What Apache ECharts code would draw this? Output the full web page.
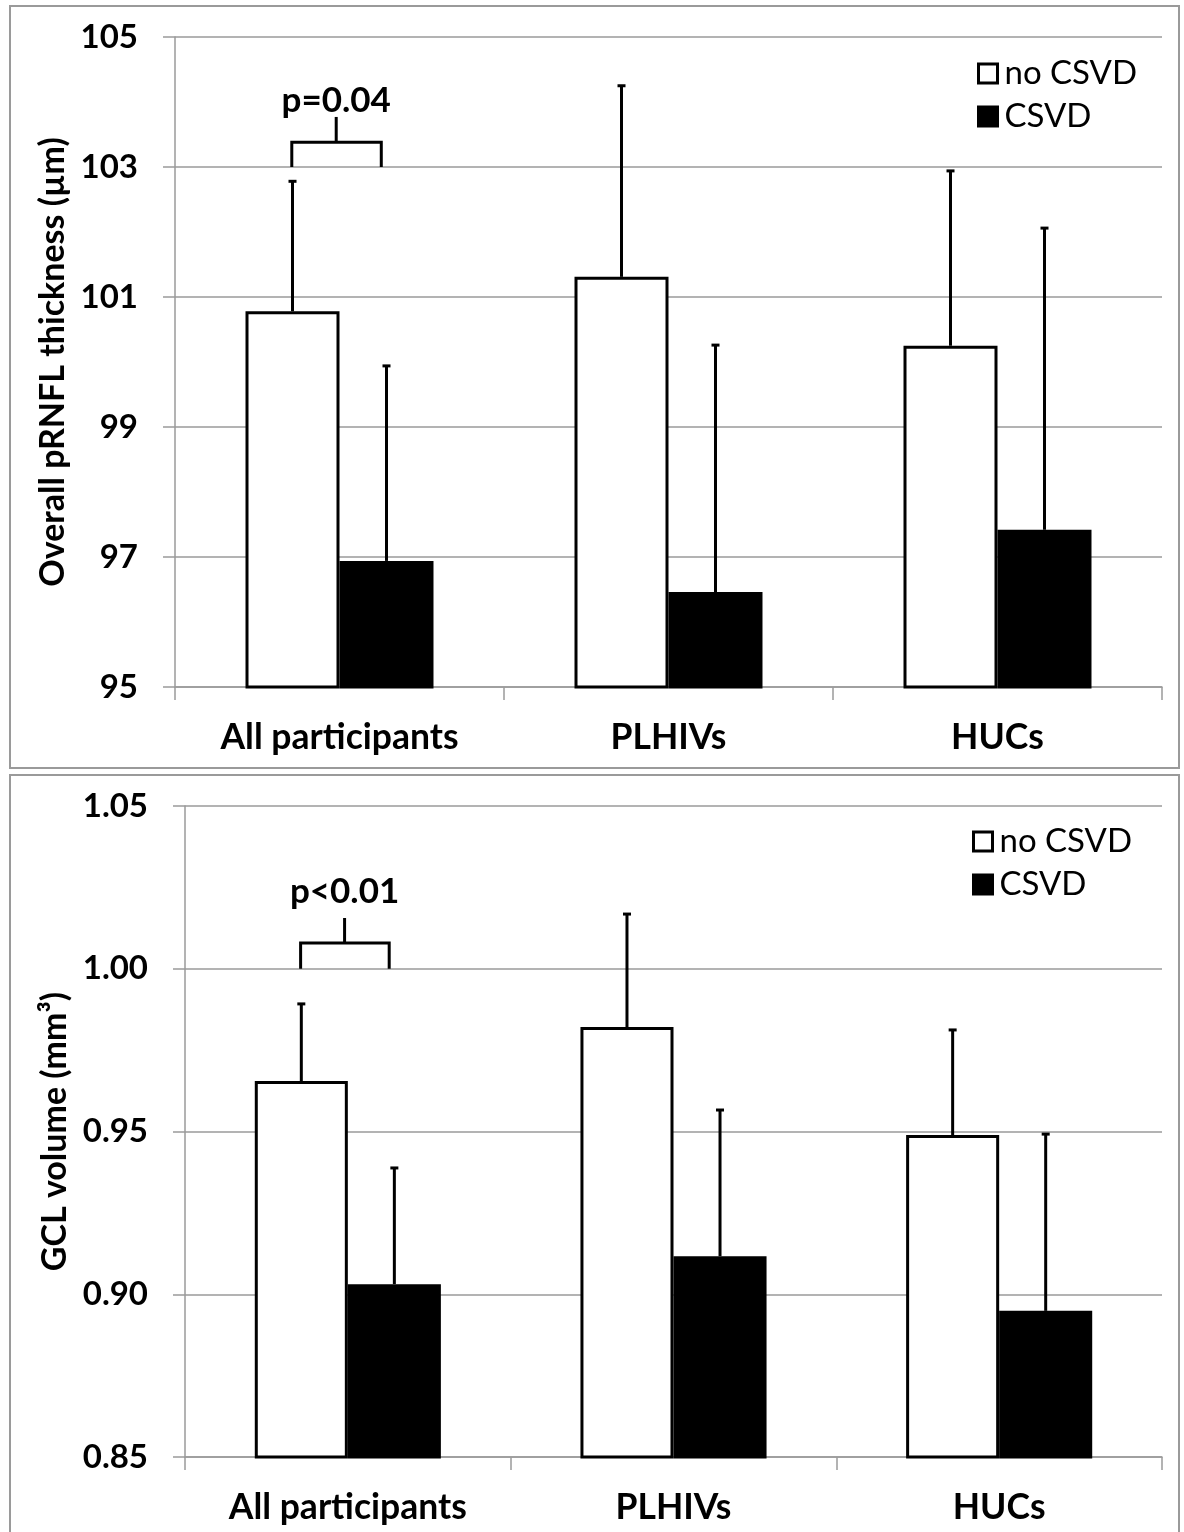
<!DOCTYPE html>
<html>
<head>
<meta charset="utf-8">
<script src="https://cdn.jsdelivr.net/npm/echarts@6/dist/echarts.min.js"></script>
<style>
html,body{margin:0;padding:0;background:#fff;}
#chart{width:1184px;height:1532px;}
</style>
</head>
<body>
<div id="chart"></div>
<script>
// ---- data ----
const categories = ['All participants', 'PLHIVs', 'HUCs'];
const seriesNames = ['no CSVD', 'CSVD'];

// Top panel: overall pRNFL thickness (µm), mean and upward error (SD)
const rnflNoCsvd = [100.78, 101.31, 100.25];
const rnflNoCsvdErr = [2.00, 2.94, 2.69];
const rnflCsvd = [96.94, 96.46, 97.42];
const rnflCsvdErr = [3.00, 3.80, 4.64];
const rnflTicks = [95, 97, 99, 101, 103, 105];
const rnflBracket = {cat: 0, base: 103.0, bar: 103.38, tip: 103.77, textAt: 104.02, text: 'p=0.04'};

// Bottom panel: GCL volume (mm³)
const gclNoCsvd = [0.9655, 0.9821, 0.9489];
const gclNoCsvdErr = [0.0237, 0.0347, 0.0323];
const gclCsvd = [0.9031, 0.9117, 0.8949];
const gclCsvdErr = [0.0357, 0.0449, 0.0543];
const gclTicks = [0.85, 0.90, 0.95, 1.00, 1.05];
const gclBracket = {cat: 0, base: 1.00, bar: 1.0079, tip: 1.0156, textAt: 1.0237, text: 'p<0.01'};

// ---- styling ----
const FONT = 'Lato, "Open Sans", sans-serif';
const GRAY = '#9a9a9a';
const BAR_FRAC = 0.2857;

function errData(vals, errs) {
  return categories.map((c, i) => [i, vals[i], vals[i] + errs[i]]);
}
function errRender(side) {
  return function (params, api) {
    const cat = api.value(0);
    const p = api.coord([cat, api.value(1)]);
    const q = api.coord([cat, api.value(2)]);
    const bw = api.size([1, 0])[0];
    const x = p[0] + side * bw * BAR_FRAC / 2;
    return {
      type: 'group',
      children: [
        {type: 'line', shape: {x1: x, y1: p[1], x2: x, y2: q[1]}, style: {stroke: '#000', lineWidth: 3}},
        {type: 'line', shape: {x1: x - 4, y1: q[1], x2: x + 4, y2: q[1]}, style: {stroke: '#000', lineWidth: 3}}
      ]
    };
  };
}
function bracketRender(b) {
  return function (params, api) {
    const cat = api.value(0);
    const bw = api.size([1, 0])[0];
    const c = api.coord([cat, api.value(2)]);
    const base = api.coord([cat, api.value(1)])[1];
    const tip = api.coord([cat, api.value(3)])[1];
    const ty = api.coord([cat, api.value(4)])[1];
    const x1 = c[0] - bw * 0.145;
    const x2 = c[0] + bw * 0.127;
    const xm = c[0] - bw * 0.01;
    return {
      type: 'group',
      children: [
        {type: 'polyline', shape: {points: [[x1, base], [x1, c[1]], [x2, c[1]], [x2, base]]},
         style: {stroke: '#000', lineWidth: 3, fill: null}},
        {type: 'line', shape: {x1: xm, y1: c[1], x2: xm, y2: tip}, style: {stroke: '#000', lineWidth: 3}},
        {type: 'text', x: xm, y: ty,
         style: {text: b.text, fill: '#000', font: 'bold 35px ' + FONT,
                 align: 'center', verticalAlign: 'middle', textAlign: 'center', textVerticalAlign: 'middle'}}
      ]
    };
  };
}

function yAxis(gridIndex, ticks, fmt, name, gap) {
  return {
    type: 'value', gridIndex: gridIndex,
    min: ticks[0], max: ticks[ticks.length - 1],
    interval: +(ticks[1] - ticks[0]).toFixed(4),
    name: name, nameLocation: 'middle', nameGap: gap, nameRotate: 90,
    nameTextStyle: {fontFamily: FONT, fontWeight: 'bold', fontSize: 34, color: '#000'},
    axisLine: {show: true, lineStyle: {color: GRAY, width: 1.5}},
    axisTick: {show: true, length: 12, lineStyle: {color: GRAY, width: 1.5}},
    axisLabel: {margin: 37, fontFamily: FONT, fontWeight: 'bold', fontSize: 33, color: '#000', formatter: fmt},
    splitLine: {show: true, lineStyle: {color: GRAY, width: 1.5}}
  };
}
function xAxis(gridIndex) {
  return {
    type: 'category', gridIndex: gridIndex, data: categories,
    axisLine: {show: true, lineStyle: {color: GRAY, width: 1.5}},
    axisTick: {show: true, length: 13, lineStyle: {color: GRAY, width: 1.5}},
    axisLabel: {margin: 33, fontFamily: FONT, fontWeight: 'bold', fontSize: 35.5, color: '#000'}
  };
}
function legend(left, top) {
  return {
    left: left, top: top, orient: 'vertical', itemGap: 10,
    itemWidth: 19, itemHeight: 19, icon: 'rect',
    itemStyle: {borderColor: '#000', borderWidth: 3},
    textStyle: {fontFamily: FONT, fontSize: 33, color: '#000', padding: [0, 0, 0, 2]},
    data: seriesNames
  };
}
function bars(gi, noVals, yesVals) {
  return [
    {name: seriesNames[0], type: 'bar', xAxisIndex: gi, yAxisIndex: gi, data: noVals,
     barWidth: (BAR_FRAC * 100) + '%', barGap: '0%',
     itemStyle: {color: '#fff', borderColor: '#000', borderWidth: 3}},
    {name: seriesNames[1], type: 'bar', xAxisIndex: gi, yAxisIndex: gi, data: yesVals,
     barWidth: (BAR_FRAC * 100) + '%', barGap: '0%',
     itemStyle: {color: '#000', borderColor: '#000', borderWidth: 3}}
  ];
}
function errSeries(gi, vals, errs, side) {
  return {type: 'custom', xAxisIndex: gi, yAxisIndex: gi, z: 5, silent: true,
          data: errData(vals, errs), encode: {x: 0, y: [1, 2]}, renderItem: errRender(side)};
}
function bracketSeries(gi, b) {
  return {type: 'custom', xAxisIndex: gi, yAxisIndex: gi, z: 5, silent: true,
          data: [[b.cat, b.base, b.bar, b.tip, b.textAt]], encode: {x: 0, y: [1, 2, 3, 4]},
          renderItem: bracketRender(b)};
}

const chart = echarts.init(document.getElementById('chart'), null, {renderer: 'canvas'});
chart.setOption({
  animation: false,
  backgroundColor: '#fff',
  graphic: [
    {type: 'rect', shape: {x: 10, y: 6, width: 1169, height: 762}, style: {fill: null, stroke: GRAY, lineWidth: 2}, z: -1},
    {type: 'rect', shape: {x: 10, y: 775, width: 1169, height: 762}, style: {fill: null, stroke: GRAY, lineWidth: 2}, z: -1}
  ],
  grid: [
    {left: 175, top: 37, width: 987, height: 650},
    {left: 185, top: 806, width: 977, height: 651}
  ],
  legend: [legend(972, 52), legend(967, 820)],
  xAxis: [xAxis(0), xAxis(1)],
  yAxis: [
    yAxis(0, rnflTicks, v => String(Math.round(v)), 'Overall pRNFL thickness (µm)', 100),
    yAxis(1, gclTicks, v => v.toFixed(2), 'GCL volume (mm³)', 110)
  ],
  series: [
    ...bars(0, rnflNoCsvd, rnflCsvd),
    errSeries(0, rnflNoCsvd, rnflNoCsvdErr, -1),
    errSeries(0, rnflCsvd, rnflCsvdErr, 1),
    bracketSeries(0, rnflBracket),
    ...bars(1, gclNoCsvd, gclCsvd),
    errSeries(1, gclNoCsvd, gclNoCsvdErr, -1),
    errSeries(1, gclCsvd, gclCsvdErr, 1),
    bracketSeries(1, gclBracket)
  ]
});
</script>
</body>
</html>
